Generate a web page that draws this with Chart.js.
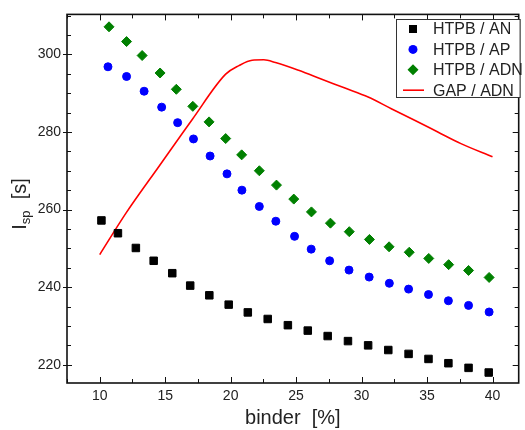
<!doctype html>
<html lang="en">
<head>
  <meta charset="utf-8">
  <title>Isp vs binder</title>
  <script src="https://cdn.jsdelivr.net/npm/chart.js"></script>
  <style>
    body { margin: 0; background: #fff; }
    #wrap { width: 525px; height: 430px; }
  </style>
</head>
<body>
<div id="wrap"><canvas id="ispChart" width="525" height="430"></canvas></div>
<script>
  // values
  const anX = [10.13, 11.39, 12.76, 14.12, 15.54, 16.91, 18.37, 19.85, 21.31, 22.83, 24.37, 25.89, 27.41, 28.96, 30.50, 32.04, 33.59, 35.11, 36.63, 38.17, 39.71];
  const anY = [257.2, 253.9, 250.1, 246.8, 243.6, 240.4, 237.9, 235.5, 233.5, 231.8, 230.2, 228.8, 227.4, 226.1, 225.0, 223.8, 222.8, 221.5, 220.4, 219.2, 218.0];

  const apX = [10.63, 12.05, 13.39, 14.73, 15.95, 17.16, 18.43, 19.72, 20.86, 22.19, 23.45, 24.88, 26.15, 27.56, 29.04, 30.58, 32.12, 33.59, 35.11, 36.63, 38.17, 39.74];
  const apY = [296.8, 294.3, 290.5, 286.4, 282.4, 278.2, 273.8, 269.2, 265.0, 260.8, 257.0, 253.1, 249.8, 246.8, 244.4, 242.6, 241.0, 239.5, 238.1, 236.5, 235.3, 233.6];

  const adnX = [10.71, 12.05, 13.24, 14.61, 15.85, 17.11, 18.35, 19.62, 20.84, 22.19, 23.50, 24.82, 26.17, 27.62, 29.06, 30.60, 32.10, 33.64, 35.13, 36.65, 38.17, 39.74];
  const adnY = [307.1, 303.3, 299.7, 295.2, 291.0, 286.6, 282.6, 278.3, 274.1, 270.0, 266.3, 262.7, 259.4, 256.5, 254.3, 252.3, 250.4, 249.0, 247.4, 245.8, 244.3, 242.5];

  const gapX = [10, 12.03, 14.56, 17.08, 19.62, 20.63, 21.64, 22.53, 23.42, 25.19, 26.96, 28.73, 30.50, 32.27, 34.05, 35.82, 37.59, 40];
  const gapY = [248.4, 259.2, 271.3, 283.3, 294.9, 297.1, 298.5, 298.6, 297.9, 295.9, 293.6, 291.3, 289.0, 286.0, 283.0, 280.0, 277.0, 273.6];

  const seriesLabels = ['HTPB / AN', 'HTPB / AP', 'HTPB / ADN', 'GAP / ADN'];

  const xTicks = [10, 15, 20, 25, 30, 35, 40];
  const xMinor = [7.5, 12.5, 17.5, 22.5, 27.5, 32.5, 37.5];
  const yTicks = [220, 240, 260, 280, 300];
  const yMinor = [225, 230, 235, 245, 250, 255, 265, 270, 275, 285, 290, 295, 305, 310];

  const FONT = "'Liberation Sans', Arial, sans-serif";
  const pts = (xs, ys) => xs.map((v, i) => ({ x: v, y: ys[i] }));

  // box round the plot with inward ticks on all four sides
  const framePlugin = {
    id: 'frame',
    afterDraw(chart) {
      const { ctx, chartArea: a, scales: { x, y } } = chart;
      ctx.save();
      ctx.strokeStyle = '#111';
      ctx.lineWidth = 1;
      ctx.beginPath();
      xTicks.forEach(v => {
        const px = Math.round(x.getPixelForValue(v)) + 0.5;
        ctx.moveTo(px, a.bottom); ctx.lineTo(px, a.bottom - 6);
        ctx.moveTo(px, a.top); ctx.lineTo(px, a.top + 6);
      });
      xMinor.forEach(v => {
        const px = Math.round(x.getPixelForValue(v)) + 0.5;
        ctx.moveTo(px, a.bottom); ctx.lineTo(px, a.bottom - 4);
        ctx.moveTo(px, a.top); ctx.lineTo(px, a.top + 4);
      });
      yTicks.forEach(v => {
        const py = Math.round(y.getPixelForValue(v)) + 0.5;
        ctx.moveTo(a.left - 4, py); ctx.lineTo(a.left + 5, py);
        ctx.moveTo(a.right, py); ctx.lineTo(a.right - 6, py);
      });
      yMinor.forEach(v => {
        const py = Math.round(y.getPixelForValue(v)) + 0.5;
        ctx.moveTo(a.left, py); ctx.lineTo(a.left + 4, py);
        ctx.moveTo(a.right, py); ctx.lineTo(a.right - 4, py);
      });
      ctx.stroke();
      ctx.lineWidth = 1.6;
      ctx.strokeRect(a.left, a.top, a.right - a.left, a.bottom - a.top);

      // y axis title with subscript
      ctx.fillStyle = '#222';
      ctx.translate(20, 204);
      ctx.rotate(-Math.PI / 2);
      ctx.textBaseline = 'middle';
      ctx.font = '20px ' + FONT;
      const wI = ctx.measureText('I').width;
      ctx.font = '13px ' + FONT;
      const wSub = ctx.measureText('sp').width;
      ctx.font = '20px ' + FONT;
      const wRest = ctx.measureText('  [s]').width;
      let cx = -(wI + wSub + wRest) / 2;
      ctx.fillText('I', cx, 0); cx += wI;
      ctx.font = '13px ' + FONT;
      ctx.fillText('sp', cx, 6); cx += wSub;
      ctx.font = '20px ' + FONT;
      ctx.fillText('  [s]', cx, 0);
      ctx.restore();
    }
  };

  // legend box in the top right corner
  const legendPlugin = {
    id: 'boxLegend',
    afterDraw(chart) {
      const { ctx, chartArea: a } = chart;
      const left = 396, top = 19, right = a.right + 1, bottom = 97;
      ctx.save();
      ctx.fillStyle = '#fff';
      ctx.fillRect(left, top, right - left, bottom - top);
      ctx.strokeStyle = '#333';
      ctx.lineWidth = 1;
      ctx.strokeRect(left + 0.5, top + 0.5, right - left, bottom - top);
      ctx.font = '16px ' + FONT;
      ctx.textBaseline = 'middle';
      chart.data.datasets.forEach((ds, i) => {
        const cy = 29 + i * 20.4;
        const mx = 413;
        ctx.fillStyle = ds.backgroundColor;
        ctx.strokeStyle = ds.borderColor;
        ctx.beginPath();
        if (ds.showLine) {
          ctx.lineWidth = 1.6;
          ctx.moveTo(403, cy); ctx.lineTo(424, cy);
          ctx.stroke();
        } else if (ds.pointStyle === 'rect') {
          ctx.fillRect(mx - 4, cy - 4, 8, 8);
        } else if (ds.pointStyle === 'circle') {
          ctx.arc(mx, cy, 4.5, 0, Math.PI * 2);
          ctx.fill();
        } else {
          ctx.moveTo(mx, cy - 5.5); ctx.lineTo(mx + 5.5, cy);
          ctx.lineTo(mx, cy + 5.5); ctx.lineTo(mx - 5.5, cy);
          ctx.closePath(); ctx.fill();
        }
        ctx.fillStyle = '#222';
        ctx.fillText(ds.label, 433, cy + 1);
      });
      ctx.restore();
    }
  };

  new Chart(document.getElementById('ispChart'), {
    type: 'scatter',
    data: {
      datasets: [{
        label: seriesLabels[0],
        data: pts(anX, anY),
        pointStyle: 'rect',
        pointRadius: 5.3,
        backgroundColor: '#000',
        borderColor: '#000',
        borderWidth: 1
      }, {
        label: seriesLabels[1],
        data: pts(apX, apY),
        pointStyle: 'circle',
        pointRadius: 4,
        backgroundColor: '#0000ff',
        borderColor: '#0000ff',
        borderWidth: 1
      }, {
        label: seriesLabels[2],
        data: pts(adnX, adnY),
        pointStyle: 'rectRot',
        pointRadius: 5,
        backgroundColor: '#008000',
        borderColor: '#008000',
        borderWidth: 1
      }, {
        label: seriesLabels[3],
        data: pts(gapX, gapY),
        showLine: true,
        pointRadius: 0,
        borderColor: '#ff0000',
        backgroundColor: '#ff0000',
        borderWidth: 1.6,
        cubicInterpolationMode: 'monotone'
      }]
    },
    options: {
      responsive: false,
      animation: false,
      layout: { padding: { top: 13, right: 4, left: 0, bottom: 0 } },
      plugins: {
        legend: { display: false },
        tooltip: { enabled: false }
      },
      scales: {
        x: {
          type: 'linear',
          min: 7.5,
          max: 42,
          afterFit: s => { s.height = 47; },
          afterBuildTicks: s => { s.ticks = xTicks.map(v => ({ value: v })); },
          grid: { display: false, drawTicks: false },
          border: { display: false },
          ticks: { padding: 5, color: '#222', font: { family: FONT, size: 14 } },
          title: {
            display: true,
            text: 'binder  [%]',
            color: '#222',
            font: { family: FONT, size: 20 },
            padding: { top: 0, bottom: 0 }
          }
        },
        y: {
          type: 'linear',
          min: 215.3,
          max: 310.3,
          afterFit: s => { s.width = 67; },
          afterBuildTicks: s => { s.ticks = yTicks.map(v => ({ value: v })); },
          grid: { display: false, drawTicks: false },
          border: { display: false },
          ticks: { padding: 6, color: '#222', font: { family: FONT, size: 14 } }
        }
      }
    },
    plugins: [framePlugin, legendPlugin]
  });
</script>
</body>
</html>
